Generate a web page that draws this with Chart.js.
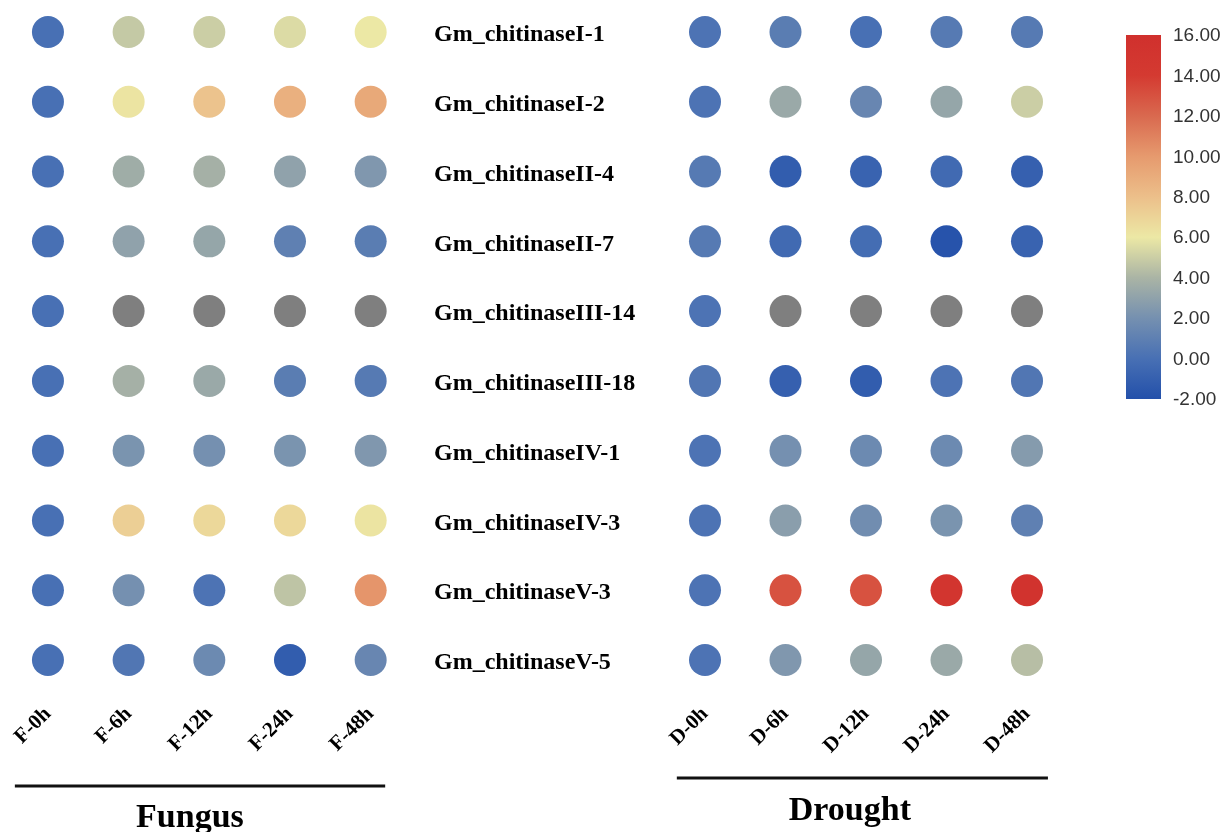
<!DOCTYPE html>
<html>
<head>
<meta charset="utf-8">
<title>Chitinase expression dot matrix</title>
<script src="https://cdn.jsdelivr.net/npm/chart.js@4.4.1/dist/chart.umd.min.js"></script>
<style>
  html, body { margin: 0; padding: 0; background: #fff; width: 1231px; height: 832px; overflow: hidden; }
  canvas { position: absolute; top: 0; }
  #fungusChart  { left: 0; }
  #droughtChart { left: 430px; }
  #scaleChart   { left: 1110px; }
</style>
</head>
<body>
<canvas id="fungusChart" width="420" height="832"></canvas>
<canvas id="droughtChart" width="660" height="832"></canvas>
<canvas id="scaleChart" width="121" height="420"></canvas>

<script>
'use strict';

// ── Data ────────────────────────────────────────────────────────
const genes = [
  'Gm_chitinaseI-1', 'Gm_chitinaseI-2', 'Gm_chitinaseII-4', 'Gm_chitinaseII-7',
  'Gm_chitinaseIII-14', 'Gm_chitinaseIII-18', 'Gm_chitinaseIV-1', 'Gm_chitinaseIV-3',
  'Gm_chitinaseV-3', 'Gm_chitinaseV-5'
];
const fungusTimes  = ['F-0h', 'F-6h', 'F-12h', 'F-24h', 'F-48h'];
const droughtTimes = ['D-0h', 'D-6h', 'D-12h', 'D-24h', 'D-48h'];

// one row per gene, null = no value (grey dot)
const fungusValues = [
  [0.0, 4.8, 5.0, 5.5, 6.0],
  [0.0, 6.2, 7.8, 8.8, 9.2],
  [0.0, 3.6, 3.8, 3.0, 2.4],
  [0.0, 3.0, 3.2, 1.0, 0.8],
  [0.0, null, null, null, null],
  [0.0, 3.8, 3.4, 0.8, 0.6],
  [0.0, 2.2, 2.0, 2.2, 2.4],
  [0.0, 7.2, 6.8, 6.8, 6.2],
  [0.0, 2.0, 0.2, 4.6, 10.2],
  [0.0, 0.4, 1.6, -1.2, 1.4]
];
const droughtValues = [
  [0.2, 0.8, 0.0, 0.6, 0.6],
  [0.2, 3.4, 1.4, 3.2, 5.0],
  [0.6, -1.2, -0.8, -0.4, -1.0],
  [0.6, -0.4, -0.2, -1.8, -0.8],
  [0.2, null, null, null, null],
  [0.4, -1.0, -1.2, 0.2, 0.4],
  [0.2, 2.0, 1.6, 1.6, 2.6],
  [0.2, 2.8, 1.8, 2.2, 1.0],
  [0.2, 13.0, 13.0, 15.0, 15.4],
  [0.2, 2.4, 3.2, 3.4, 4.4]
];

// colour scale
const scaleTicks  = [-2, 0, 2, 4, 6, 8, 10, 12, 14, 16];
const scaleColors = ['#2350aa', '#4870b4', '#7590b0', '#aab4a5', '#ece8a5',
                     '#ecbf8a', '#e69a6e', '#d9694f', '#d43a31', '#d0302d'];
const naColor = '#7f7f7f';

// ── Helpers ─────────────────────────────────────────────────────
const SERIF = '"Liberation Serif", "Times New Roman", serif';

function hexToRgb(h) {
  const n = parseInt(h.slice(1), 16);
  return [(n >> 16) & 255, (n >> 8) & 255, n & 255];
}

function colorFor(v) {
  if (v === null || v === undefined) return naColor;
  const last = scaleTicks.length - 1;
  if (v <= scaleTicks[0]) return scaleColors[0];
  if (v >= scaleTicks[last]) return scaleColors[last];
  let i = 0;
  while (v > scaleTicks[i + 1]) i++;
  const t = (v - scaleTicks[i]) / (scaleTicks[i + 1] - scaleTicks[i]);
  const a = hexToRgb(scaleColors[i]), b = hexToRgb(scaleColors[i + 1]);
  const c = a.map((x, k) => Math.round(x + (b[k] - x) * t));
  return `rgb(${c[0]},${c[1]},${c[2]})`;
}

function toPoints(times, values) {
  const pts = [];
  values.forEach((row, gi) => row.forEach((v, ti) => pts.push({ x: times[ti], y: gi, v })));
  return pts;
}

// underline + group name under the rotated x labels
const groupLabel = {
  id: 'groupLabel',
  afterDraw(chart, args, opts) {
    if (!opts.text) return;
    const { ctx, chartArea } = chart;
    const xs = chart.scales.x;
    const base = chartArea.bottom;
    ctx.save();
    ctx.strokeStyle = '#111';
    ctx.lineWidth = 3;
    ctx.beginPath();
    ctx.moveTo(xs.getPixelForValue(opts.from), base + opts.lineGap);
    ctx.lineTo(xs.getPixelForValue(opts.to), base + opts.lineGap);
    ctx.stroke();
    ctx.fillStyle = '#000';
    ctx.font = `bold 34px ${SERIF}`;
    ctx.textAlign = 'center';
    ctx.textBaseline = 'alphabetic';
    ctx.fillText(opts.text, xs.getPixelForValue(opts.center), base + opts.textGap);
    ctx.restore();
  }
};

function dotChart(id, times, values, group, showGenes, padding) {
  return new Chart(document.getElementById(id), {
    type: 'scatter',
    data: {
      datasets: [{
        data: toPoints(times, values),
        pointRadius: 16,
        pointBorderWidth: 0,
        pointBackgroundColor: c => colorFor(c.raw && c.raw.v)
      }]
    },
    options: {
      responsive: false,
      animation: false,
      events: [],
      layout: { padding, autoPadding: false },
      plugins: {
        legend: { display: false },
        tooltip: { enabled: false },
        groupLabel: group
      },
      scales: {
        x: {
          type: 'category',
          labels: times,
          offset: true,
          grid: { display: false, drawTicks: false },
          border: { display: false },
          ticks: {
            autoSkip: false, minRotation: 45, maxRotation: 45, padding: 14,
            color: '#000', font: { family: SERIF, weight: 'bold', size: 21 }
          },
          afterFit: s => { s.height = 144.1; }
        },
        y: {
          type: 'linear',
          display: showGenes,
          min: -0.4, max: 9.4,
          reverse: true,
          afterBuildTicks: s => { s.ticks = genes.map((g, i) => ({ value: i })); },
          grid: { display: false, drawTicks: false },
          border: { display: false },
          ticks: {
            callback: v => genes[v],
            crossAlign: 'far', padding: 0, labelOffset: 3,
            color: '#000', font: { family: SERIF, weight: 'bold', size: 24 }
          },
          afterFit: s => {
            s.width = showGenes ? 230.75 : 0;
            s.paddingTop = 0;
            s.paddingBottom = 0;
          }
        }
      }
    },
    plugins: [groupLabel]
  });
}

// ── Charts ──────────────────────────────────────────────────────
dotChart('fungusChart', fungusTimes, fungusValues,
  { text: 'Fungus', from: -0.41, to: 4.18, center: 1.76, lineGap: 98, textGap: 139 },
  false, { left: 7.6, right: 9, top: 4.09, bottom: 0 });

dotChart('droughtChart', droughtTimes, droughtValues,
  { text: 'Drought', from: -0.35, to: 4.26, center: 1.80, lineGap: 90, textGap: 132 },
  true, { left: 4, right: 22.75, top: 4.09, bottom: 0 });

// colour bar
new Chart(document.getElementById('scaleChart'), {
  type: 'bar',
  data: {
    labels: [''],
    datasets: [{
      data: [[scaleTicks[0], scaleTicks[scaleTicks.length - 1]]],
      barPercentage: 1,
      categoryPercentage: 1,
      borderWidth: 0,
      backgroundColor: c => {
        const chart = c.chart;
        if (!chart.chartArea) return scaleColors[0];
        const ys = chart.scales.y;
        const lo = scaleTicks[0], hi = scaleTicks[scaleTicks.length - 1];
        const g = chart.ctx.createLinearGradient(0, ys.getPixelForValue(lo), 0, ys.getPixelForValue(hi));
        scaleTicks.forEach((t, i) => g.addColorStop((t - lo) / (hi - lo), scaleColors[i]));
        return g;
      }
    }]
  },
  options: {
    responsive: false,
    animation: false,
    events: [],
    layout: { padding: { left: 16, right: 0, top: 35, bottom: 21 }, autoPadding: false },
    plugins: { legend: { display: false }, tooltip: { enabled: false } },
    scales: {
      x: { display: false },
      y: {
        position: 'right',
        min: scaleTicks[0],
        max: scaleTicks[scaleTicks.length - 1],
        afterBuildTicks: s => { s.ticks = scaleTicks.map(v => ({ value: v })); },
        grid: { display: false, drawTicks: false },
        border: { display: false },
        ticks: {
          callback: v => v.toFixed(2),
          padding: 12,
          labelOffset: 1,
          color: '#333',
          font: { family: '"Liberation Sans", Arial, sans-serif', size: 19 }
        },
        afterFit: s => { s.width = 70; s.paddingTop = 0; s.paddingBottom = 0; }
      }
    }
  }
});
</script>
</body>
</html>
